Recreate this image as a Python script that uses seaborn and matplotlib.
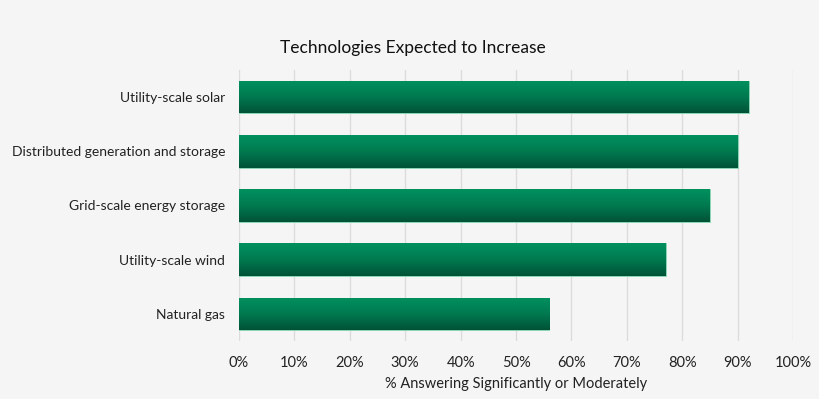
import matplotlib.pyplot as plt
import numpy as np
import pandas as pd
import seaborn as sns
from matplotlib.colors import LinearSegmentedColormap

# chart data
technologies = [
    "Utility-scale solar",
    "Distributed generation and storage",
    "Grid-scale energy storage",
    "Utility-scale wind",
    "Natural gas",
]
pct_increase = [92, 90, 85, 77, 56]
xticks = [0, 10, 20, 30, 40, 50, 60, 70, 80, 90, 100]
xtick_labels = [f"{t}%" for t in xticks]

df = pd.DataFrame({"Technology": technologies, "Percent": pct_increase})

bg = "#f5f5f5"
sns.set_style("white")
plt.rcParams["font.family"] = ["Lato", "DejaVu Sans"]

fig = plt.figure(figsize=(8.2, 3.99), dpi=100, facecolor=bg)
ax = fig.add_axes([0.2915, 0.1454, 0.6756, 0.6792])
ax.set_facecolor(bg)

sns.barplot(data=df, x="Percent", y="Technology", orient="h", width=0.6,
            color="#00805a", edgecolor="#8fdcb8", linewidth=0.6, ax=ax, zorder=2)

# vertical green gradient inside each bar
cmap = LinearSegmentedColormap.from_list("grn", ["#00915f", "#007a50", "#005236"])
grad = np.linspace(0, 1, 256).reshape(-1, 1)
for patch in ax.patches:
    x0, y0 = patch.get_x(), patch.get_y()
    w, h = patch.get_width(), patch.get_height()
    img = ax.imshow(grad, cmap=cmap, aspect="auto", zorder=2.5,
                    extent=[x0, x0 + w, y0 + h, y0], origin="upper")
    img.set_clip_path(patch)

ax.set_xlim(0, 100)
ax.set_ylim(4.5, -0.5)
ax.set_xticks(xticks)
ax.set_xticklabels(xtick_labels, fontsize=10.5, color="#222222")
ax.tick_params(axis="y", labelsize=10, colors="#222222", length=0, pad=10)
ax.tick_params(axis="x", length=0, pad=11)
ax.xaxis.grid(True, color="#dcdcdc", linewidth=1, zorder=0)
ax.set_axisbelow(True)
for s in ax.spines.values():
    s.set_visible(False)

ax.set_ylabel("")
ax.set_xlabel("% Answering Significantly or Moderately", fontsize=10.5,
              color="#222222", labelpad=5)
fig.text(0.503, 0.88, "Technologies Expected to Increase", ha="center",
         va="center", fontsize=12.5, color="#111111")

plt.savefig("out.png", dpi=100, facecolor=bg)
